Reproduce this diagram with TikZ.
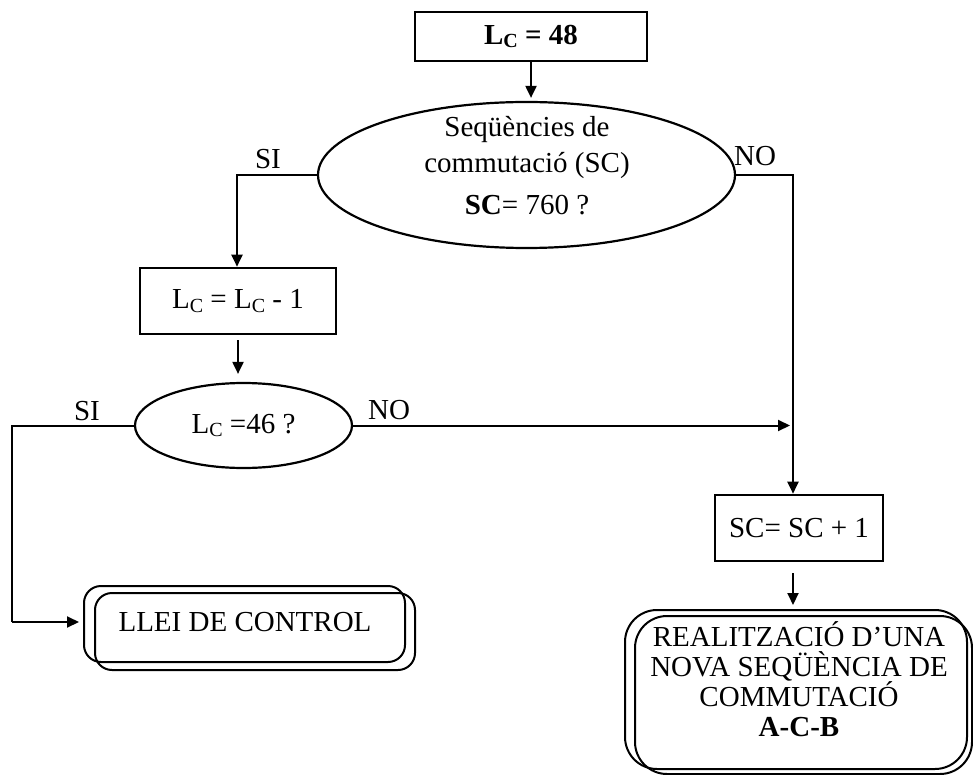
\documentclass[tikz,border=0pt]{standalone}
\usepackage{fontspec}
\setmainfont{Liberation Serif}
\usetikzlibrary{arrows.meta,shapes.geometric}
\newcommand{\subC}{\raisebox{-0.12em}{\fontsize{20}{20}\selectfont C}}
\begin{document}
\begin{tikzpicture}[x=1pt,y=-1pt,
  font=\fontsize{29}{30}\selectfont,
  conn/.style={line width=2pt},
  arr/.style={conn,-{Triangle[length=12pt,width=11pt]}},
  procbox/.style={draw,line width=2.6pt,rectangle,inner sep=0pt},
  decision/.style={draw,line width=2.2pt,ellipse,inner sep=0pt},
  termbox/.style={draw,line width=2pt,rectangle,rounded corners=#1,inner sep=0pt},
  lbl/.style={inner sep=0pt,anchor=base}]
\useasboundingbox (0,0) rectangle (973,775);

% process boxes
\node[procbox,minimum width=232pt,minimum height=49pt] (init) at (531,36.5)
  {\textbf{L\subC\ = 48}};
\node[procbox,minimum width=196pt,minimum height=66pt] (dec) at (238,301)
  {L\subC\ = L\subC\ - 1};
\node[procbox,minimum width=168pt,minimum height=66pt] (inc) at (799,528)
  {SC= SC + 1};

% decisions
\node[decision,minimum width=417pt,minimum height=146pt] (q1) at (526.5,175) {};
\node[align=center,inner sep=0pt,font=\fontsize{29}{36}\selectfont] (q1txt) at (527,166)
  {Seqüències de\\commutació (SC)\\[6pt]\textbf{SC}= 760 ?};
\node[decision,minimum width=217pt,minimum height=85pt] (q2) at (243.5,425.5)
  {L\subC\ =46 ?};

% terminal boxes, each with an offset outline
\node[termbox=17pt,minimum width=321pt,minimum height=76pt] (law) at (244.5,624)
  {};
\node[termbox=17pt,minimum width=320pt,minimum height=77pt] (lawb) at (255,631.5)
  {};
\node[inner sep=0pt] (lawtxt) at (245,622) {LLEI DE CONTROL};
\node[termbox=32pt,minimum width=342pt,minimum height=159pt] (seq) at (796,689.5)
  {};
\node[termbox=32pt,minimum width=337pt,minimum height=158pt] (seqb) at (803.5,695)
  {};
\node[align=center,inner sep=0pt] (seqtxt) at (799,679)
  {REALITZACIÓ D’UNA\\NOVA SEQÜÈNCIA DE\\COMMUTACIÓ\\\textbf{A-C-B}};

% junction points
\coordinate (siA) at (237,175);
\coordinate (noA) at (793,175);
\coordinate (siB) at (12,425.5);
\coordinate (siBend) at (12,622);

% connectors
\draw[arr,shorten >=3pt] (init.south) -- (init.south |- q1.north);
\draw[arr] (q1.west) -- (siA) -- (siA |- dec.north);
\draw[arr] (q1.east) -- (noA) -- (noA |- inc.north);
\draw[arr,shorten <=5pt,shorten >=8pt] (dec.south) -- (dec.south |- q2.north);
\draw[arr,shorten >=3pt] (q2.east) -- (q2.east -| noA);
\draw[conn] (q2.west) -- (siB) -- (siBend);
\draw[arr,shorten >=4pt] (siBend) -- (siBend -| law.west);
\draw[arr,shorten <=11pt,shorten >=4pt] (inc.south -| noA) -- (noA |- seq.north);

% branch labels
\node[lbl] (siAl) at (268,169) {SI};
\node[lbl] (noAl) at (755,166) {NO};
\node[lbl] (siBl) at (87,420) {SI};
\node[lbl] (noBl) at (389,419) {NO};
\end{tikzpicture}
\end{document}
